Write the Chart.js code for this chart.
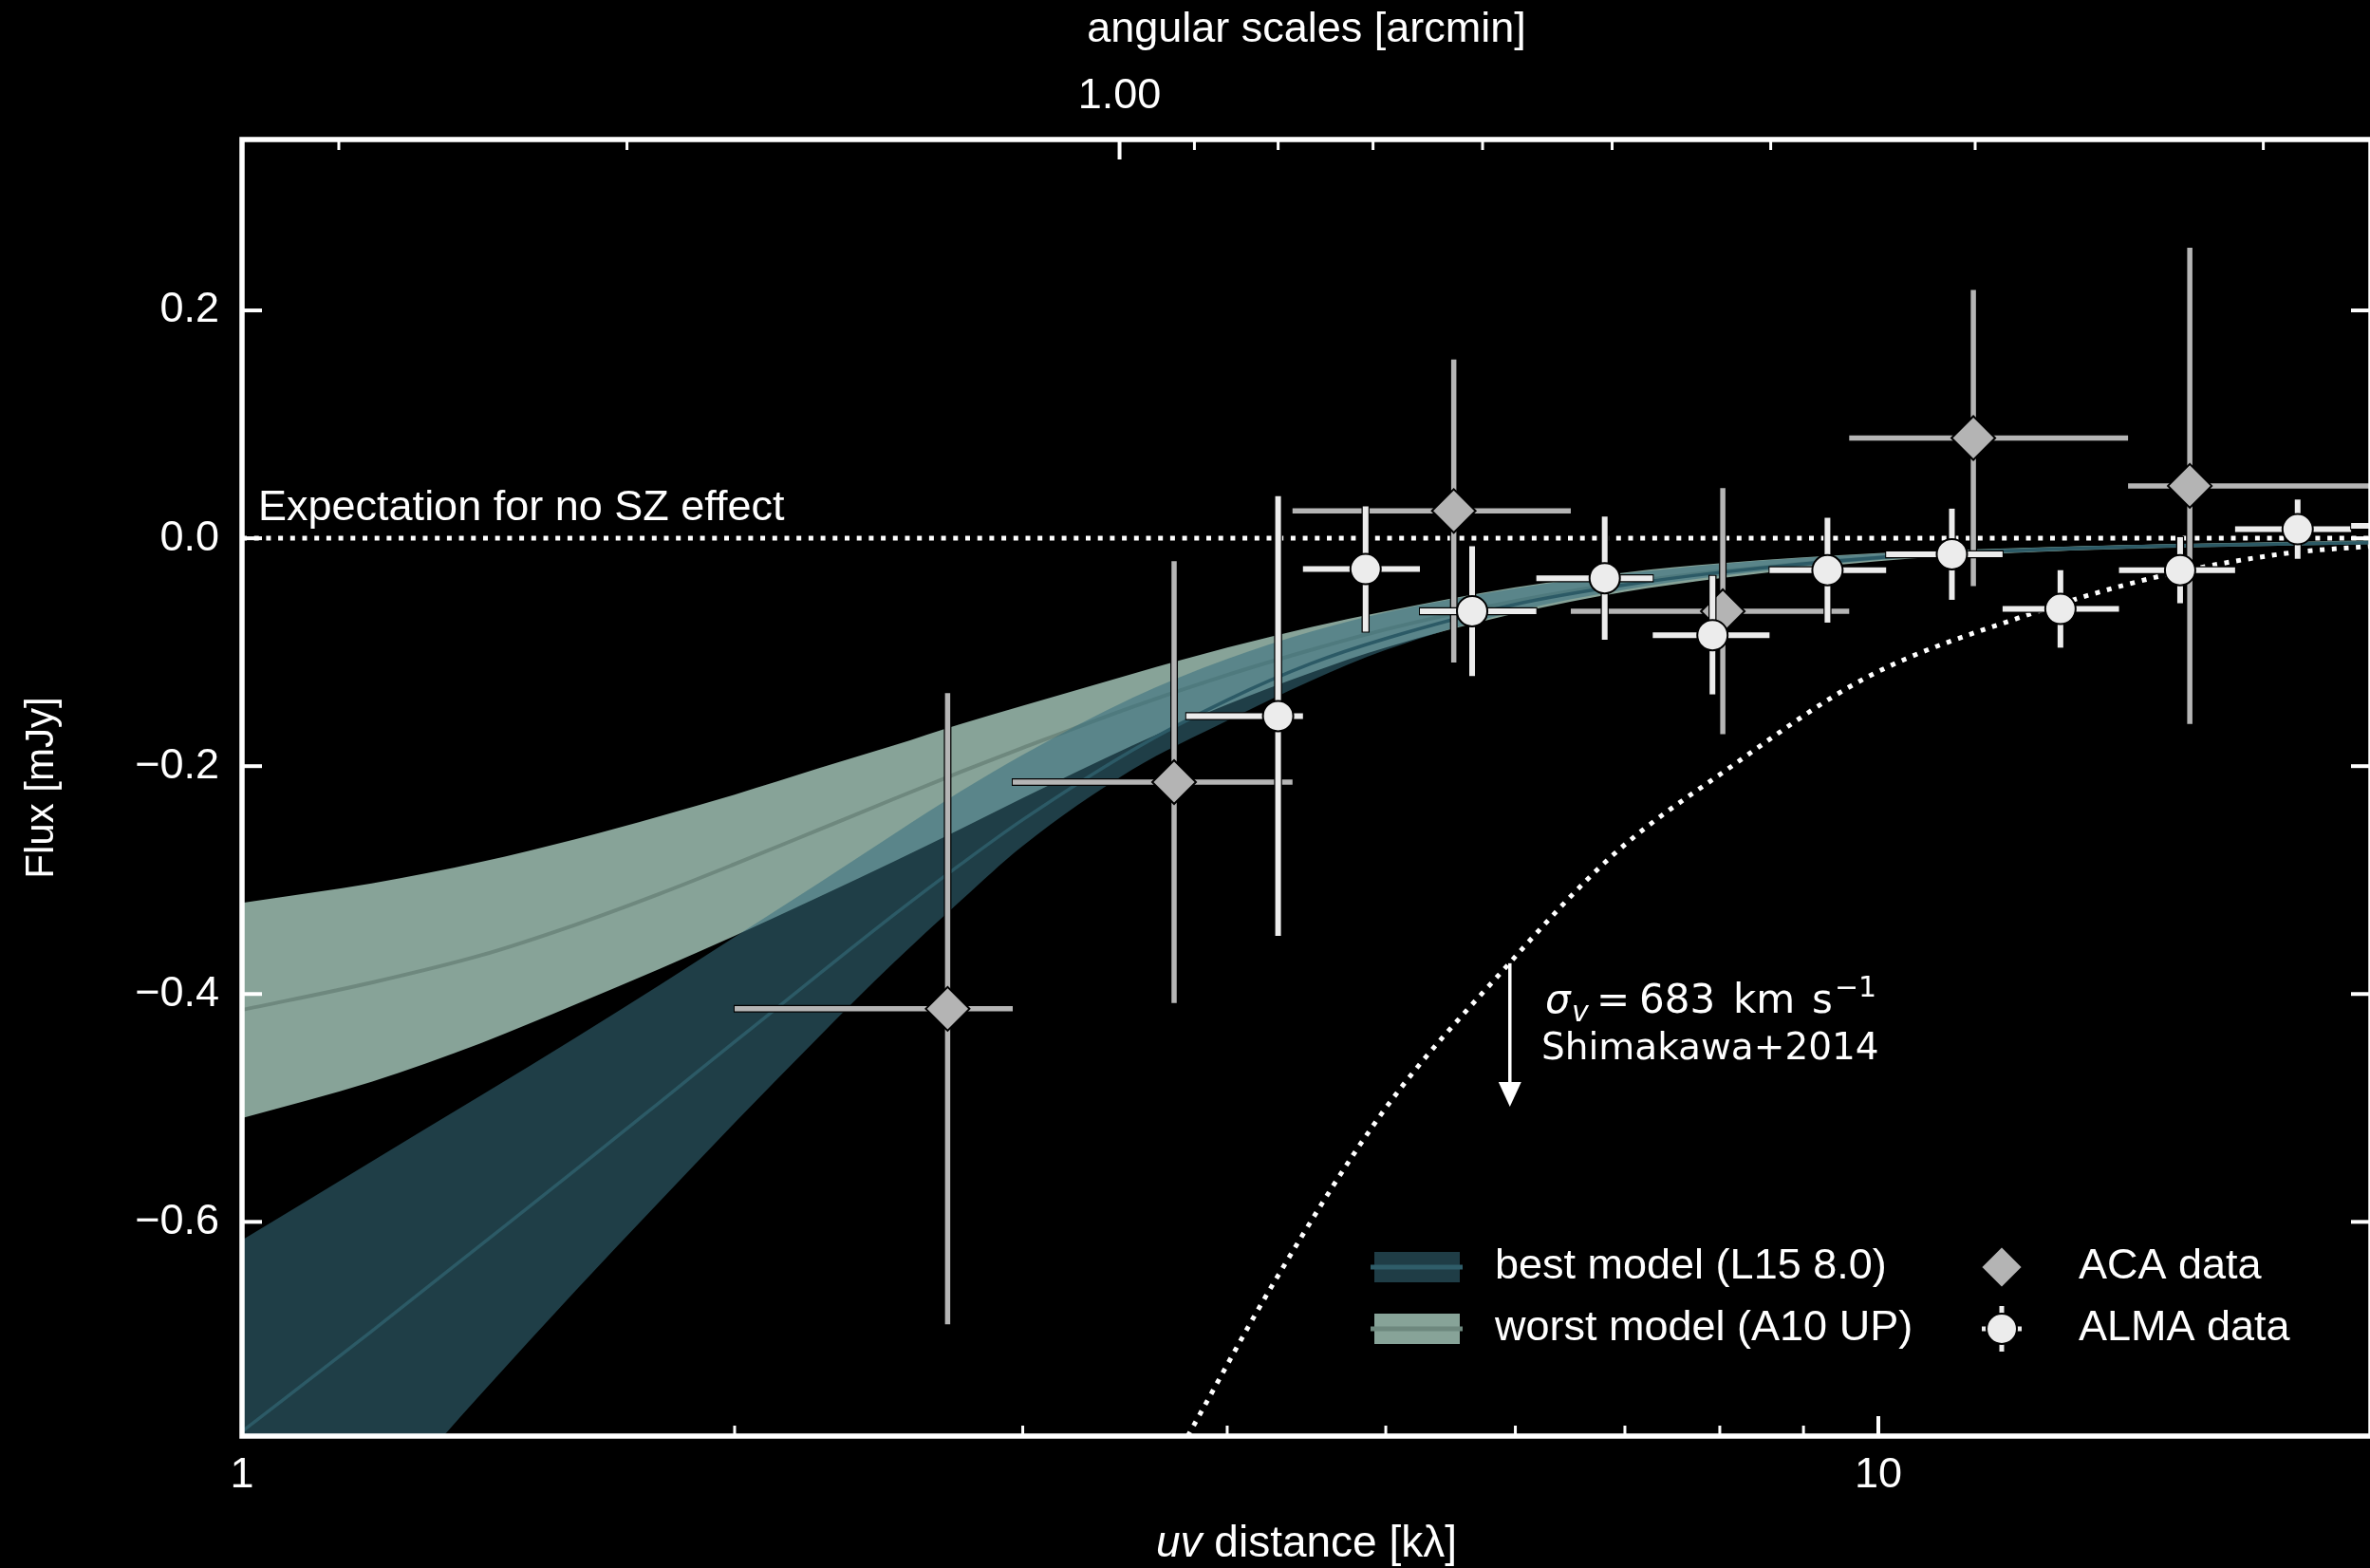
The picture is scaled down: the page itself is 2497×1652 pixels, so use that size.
<!DOCTYPE html>
<html>
<head>
<meta charset="utf-8">
<title>uv-distance flux profile</title>
<script src="https://cdn.jsdelivr.net/npm/chart.js@4.4.1/dist/chart.umd.min.js"></script>
<style>
  html, body { margin: 0; background: #000; overflow: hidden; }
  canvas { display: block; background: #000; }
</style>
</head>
<body>
<canvas id="uvplot" width="2513" height="1652"></canvas>
<script>
// ---- data ---------------------------------------------------------------

// model sampling in uv distance [kλ]
const modelUv = [1.0, 1.2, 1.4, 1.6, 1.8, 2.0, 2.25, 2.5, 2.75, 3.0, 3.5, 4.0, 4.5, 5.0, 6.0, 7.0, 8.0, 10, 12, 15, 20];

// best model (L15 8.0): band edges and median [mJy]
const bestUpper  = [-0.616, -0.547, -0.489, -0.438, -0.392, -0.350, -0.303, -0.260, -0.222, -0.190, -0.140, -0.106, -0.082, -0.065, -0.044, -0.031, -0.0225, -0.0135, -0.009, -0.0056, -0.003];
const bestMedian = [-0.784, -0.696, -0.620, -0.554, -0.495, -0.442, -0.383, -0.331, -0.286, -0.247, -0.186, -0.142, -0.110, -0.088, -0.058, -0.041, -0.030, -0.017, -0.011, -0.0068, -0.0038];
const bestLower  = [-0.985, -0.859, -0.751, -0.660, -0.582, -0.513, -0.438, -0.373, -0.318, -0.270, -0.203, -0.160, -0.125, -0.098, -0.064, -0.045, -0.033, -0.019, -0.0125, -0.0078, -0.0045];

// worst model (A10 UP)
const worstUpper  = [-0.320, -0.303, -0.284, -0.264, -0.244, -0.225, -0.202, -0.182, -0.163, -0.147, -0.119, -0.096, -0.078, -0.064, -0.043, -0.030, -0.022, -0.013, -0.0088, -0.0054, -0.0026];
const worstMedian = [-0.414, -0.390, -0.366, -0.339, -0.312, -0.286, -0.256, -0.229, -0.205, -0.184, -0.148, -0.120, -0.098, -0.080, -0.055, -0.039, -0.029, -0.017, -0.011, -0.0068, -0.0035];
const worstLower  = [-0.509, -0.477, -0.443, -0.409, -0.378, -0.349, -0.315, -0.284, -0.255, -0.228, -0.182, -0.146, -0.118, -0.096, -0.066, -0.047, -0.035, -0.020, -0.013, -0.008, -0.0045];

// sigma_v = 683 km/s expectation (Shimakawa+2014)
const sigmaUv   = [3.784, 4.275, 5.0, 5.89, 6.89, 8.09, 9.84, 12.29, 14.69, 17.8, 20.0];
const sigmaFlux = [-0.788, -0.6525, -0.50, -0.380, -0.2775, -0.2025, -0.122, -0.068, -0.035, -0.013, -0.007];

// ACA binned visibilities
const acaUv    = [2.699, 3.712, 5.502, 8.034, 11.43, 15.50];
const acaFlux  = [-0.413, -0.214, 0.024, -0.064, 0.088, 0.046];
const acaErr   = [0.277, 0.194, 0.133, 0.108, 0.130, 0.209];
const acaBinLo = [2.0, 2.958, 4.385, 6.487, 9.598, 14.21];
const acaBinHi = [2.958, 4.385, 6.487, 9.598, 14.21, 21.0];

// ALMA binned visibilities
const almaUv    = [4.297, 4.860, 5.646, 6.804, 7.918, 9.309, 11.09, 12.92, 15.29, 18.04, 21.2];
const almaFlux  = [-0.156, -0.027, -0.064, -0.035, -0.085, -0.028, -0.014, -0.062, -0.028, 0.008, 0.011];
const almaErr   = [0.193, 0.055, 0.057, 0.054, 0.052, 0.046, 0.040, 0.034, 0.029, 0.026, 0.024];
const almaBinLo = [3.776, 4.45, 5.246, 6.18, 7.28, 8.58, 10.11, 11.91, 14.03, 16.52, 19.45];
const almaBinHi = [4.45, 5.246, 6.18, 7.28, 8.58, 10.11, 11.91, 14.03, 16.52, 19.45, 22.9];

// axes
const uvTicks   = [1, 2, 3, 4, 5, 6, 7, 8, 9, 10, 20];
const uvLabels  = {1: '1', 10: '10'};
const arcTicks  = [3, 2, 1, 0.9, 0.8, 0.7, 0.6, 0.5, 0.4, 0.3, 0.2];
const arcLabels = {1: '1.00'};
const fluxTicks = [-0.6, -0.4, -0.2, 0.0, 0.2];

const ARCMIN_KLAMBDA = 3.43775;  // theta[arcmin] = 3.43775 / uv[klambda]
const FONT = "'Liberation Sans', Arial, sans-serif";
const MATH_FONT = "'DejaVu Sans', sans-serif";

// ---- helpers --------------------------------------------------------------

const pts = (xs, ys) => xs.map((x, i) => ({x, y: ys[i]}));
const sx = (c, v) => c.scales.x.getPixelForValue(v);
const sy = (c, v) => c.scales.y.getPixelForValue(v);

function seg(ctx, x1, y1, x2, y2) {
  ctx.beginPath(); ctx.moveTo(x1, y1); ctx.lineTo(x2, y2); ctx.stroke();
}

function crossBars(ctx, x, y, xl, xr, yt, yb, color, w) {
  ctx.strokeStyle = '#000'; ctx.lineWidth = w + 2.5;
  seg(ctx, xl - 1, y, xr + 1, y); seg(ctx, x, yt - 1, x, yb + 1);
  ctx.strokeStyle = color; ctx.lineWidth = w;
  seg(ctx, xl, y, xr, y); seg(ctx, x, yt, x, yb);
}

// error bars go in right under each marker dataset
const errorBars = {
  id: 'errorBars',
  beforeDatasetDraw(chart, args) {
    const ds = chart.data.datasets[args.index];
    const eb = ds.errorBars;
    if (!eb) return;
    const {ctx, chartArea: a} = chart;
    ctx.save();
    ctx.beginPath(); ctx.rect(a.left, a.top, a.right - a.left, a.bottom - a.top); ctx.clip();
    ctx.lineCap = 'butt';
    ds.data.forEach((p, i) => {
      crossBars(ctx, sx(chart, p.x), sy(chart, p.y),
        sx(chart, eb.lo[i]), sx(chart, eb.hi[i]),
        sy(chart, p.y + eb.err[i]), sy(chart, p.y - eb.err[i]),
        eb.color, eb.width);
    });
    ctx.restore();
  }
};

// inward ticks on all four sides + box
const frame = {
  id: 'frame',
  afterDatasetsDraw(chart) {
    const {ctx, chartArea: a, scales} = chart;
    ctx.save();
    ctx.strokeStyle = '#fff';
    ctx.lineCap = 'butt';
    scales.x.ticks.forEach(t => {
      const px = scales.x.getPixelForValue(t.value);
      ctx.lineWidth = t.major ? 4 : 3;
      seg(ctx, px, a.bottom, px, a.bottom - (t.major ? 21 : 11));
    });
    scales.x2.ticks.forEach(t => {
      const px = scales.x2.getPixelForValue(t.value);
      ctx.lineWidth = t.major ? 4 : 3;
      seg(ctx, px, a.top, px, a.top + (t.major ? 21 : 11));
    });
    ctx.lineWidth = 4;
    scales.y.ticks.forEach(t => {
      const py = scales.y.getPixelForValue(t.value);
      seg(ctx, a.left, py, a.left + 21, py);
      seg(ctx, a.right, py, a.right - 21, py);
    });
    ctx.lineWidth = 5.5;
    ctx.strokeRect(a.left, a.top, a.right - a.left, a.bottom - a.top);
    ctx.restore();
  }
};

// titles, annotations and the key
const notes = {
  id: 'notes',
  afterDraw(chart) {
    const {ctx, chartArea: a} = chart;
    ctx.save();
    ctx.fillStyle = '#fff';
    ctx.strokeStyle = '#fff';
    ctx.textAlign = 'left';
    ctx.textBaseline = 'alphabetic';

    // x title with italic "uv"
    const xt1 = 'uv', xt2 = ' distance [kλ]';
    ctx.font = `italic 46px ${FONT}`;
    const w1 = ctx.measureText(xt1).width;
    ctx.font = `46px ${FONT}`;
    const w2 = ctx.measureText(xt2).width;
    const x0 = (a.left + a.right) / 2 - (w1 + w2) / 2;
    ctx.font = `italic 46px ${FONT}`;
    ctx.fillText(xt1, x0, 1640);
    ctx.font = `46px ${FONT}`;
    ctx.fillText(xt2, x0 + w1, 1640);

    // y title
    ctx.save();
    ctx.translate(56, (a.top + a.bottom) / 2);
    ctx.rotate(-Math.PI / 2);
    ctx.textAlign = 'center';
    ctx.font = `42px ${FONT}`;
    ctx.fillText('Flux [mJy]', 0, 0);
    ctx.restore();

    // zero-signal line label
    ctx.font = `45px ${FONT}`;
    ctx.fillText('Expectation for no SZ effect', sx(chart, 1.023), sy(chart, 0.016));

    // arrow off the sigma_v curve
    const ax = sx(chart, 5.954);
    const ay0 = sy(chart, -0.373), ay1 = sy(chart, -0.499);
    ctx.lineWidth = 3.5;
    seg(ctx, ax, ay0, ax, ay1 - 20);
    ctx.beginPath();
    ctx.moveTo(ax - 12, ay1 - 26);
    ctx.lineTo(ax + 12, ay1 - 26);
    ctx.lineTo(ax, ay1);
    ctx.closePath();
    ctx.fill();

    // sigma_v label, math pieces laid out by hand
    const tx = sx(chart, 6.257);
    const ty = sy(chart, -0.4167);
    ctx.font = `italic 42px ${MATH_FONT}`;
    ctx.fillText('σ', tx, ty);
    ctx.font = `italic 30px ${MATH_FONT}`;
    ctx.fillText('v', tx + 28, ty + 9);
    ctx.font = `42px ${MATH_FONT}`;
    ctx.fillText('=', tx + 54, ty);
    ctx.fillText('683', tx + 99, ty);
    ctx.fillText('km', tx + 198, ty);
    ctx.fillText('s', tx + 281, ty);
    ctx.font = `30px ${MATH_FONT}`;
    ctx.fillText('−1', tx + 305, ty - 17);
    ctx.font = `39px ${MATH_FONT}`;
    ctx.fillText('Shimakawa+2014', tx - 4, ty + 49);

    // key
    ctx.textBaseline = 'middle';
    ctx.font = `45px ${FONT}`;
    const swatch = (y, fill, line) => {
      ctx.fillStyle = fill;
      ctx.fillRect(1448, y - 16, 90, 32);
      ctx.strokeStyle = line; ctx.lineWidth = 5;
      seg(ctx, 1444, y, 1541, y);
    };
    swatch(1335, '#1f3d46', '#2f5d69');
    swatch(1400, '#87a398', '#6e887e');
    ctx.fillStyle = '#fff';
    ctx.fillText('best model (L15 8.0)', 1575, 1335);
    ctx.fillText('worst model (A10 UP)', 1575, 1400);
    ctx.fillText('ACA data', 2190, 1335);
    ctx.fillText('ALMA data', 2190, 1400);

    const mx = 2109;
    ctx.lineWidth = 2;
    ctx.strokeStyle = '#000';
    ctx.fillStyle = '#b4b4b4';
    ctx.beginPath();
    ctx.moveTo(mx - 22, 1335); ctx.lineTo(mx, 1313); ctx.lineTo(mx + 22, 1335); ctx.lineTo(mx, 1357);
    ctx.closePath(); ctx.fill(); ctx.stroke();

    crossBars(ctx, mx, 1400, mx - 21, mx + 21, 1376, 1424, '#ececec', 5);
    ctx.lineWidth = 2;
    ctx.strokeStyle = '#000';
    ctx.fillStyle = '#ececec';
    ctx.beginPath(); ctx.arc(mx, 1400, 16, 0, Math.PI * 2); ctx.fill(); ctx.stroke();

    ctx.restore();
  }
};

// ---- chart --------------------------------------------------------------------

const band = (data, fill, color, order) => ({
  data, fill, order,
  backgroundColor: color,
  borderColor: 'rgba(0,0,0,0)', borderWidth: 0,
  pointRadius: 0, cubicInterpolationMode: 'monotone'
});
const curve = (data, color, width, order, dash) => ({
  data, order, fill: false,
  borderColor: color, borderWidth: width, borderDash: dash || [],
  borderCapStyle: 'butt',
  pointRadius: 0, cubicInterpolationMode: 'monotone'
});

const tickFont = {family: FONT, size: 45};

new Chart(document.getElementById('uvplot'), {
  type: 'line',
  data: {
    datasets: [
      band(pts(modelUv, worstUpper), 1, '#87a398', 50),
      band(pts(modelUv, worstLower), false, '#87a398', 49),
      curve(pts(modelUv, worstMedian), '#6e887e', 4, 45),
      band(pts(modelUv, bestUpper), 4, 'rgba(56,110,126,0.56)', 40),
      band(pts(modelUv, bestLower), false, 'rgba(56,110,126,0.56)', 39),
      curve(pts(modelUv, bestMedian), '#2c5a66', 3.5, 35),
      curve(pts([1, 20], [0, 0]), '#ffffff', 5, 60, [5, 7.7]),
      curve(pts(sigmaUv, sigmaFlux), '#ffffff', 5, 55, [5, 7.7]),
      {
        data: pts(acaUv, acaFlux), order: 20, showLine: false,
        pointStyle: 'rectRot', pointRadius: 23,
        pointBackgroundColor: '#b4b4b4', pointBorderColor: '#000', pointBorderWidth: 2,
        errorBars: {lo: acaBinLo, hi: acaBinHi, err: acaErr, color: '#b5b5b5', width: 5.5}
      },
      {
        data: pts(almaUv, almaFlux), order: 10, showLine: false,
        pointStyle: 'circle', pointRadius: 16,
        pointBackgroundColor: '#ececec', pointBorderColor: '#000', pointBorderWidth: 2,
        errorBars: {lo: almaBinLo, hi: almaBinHi, err: almaErr, color: '#ececec', width: 6}
      }
    ]
  },
  options: {
    responsive: false, animation: false, devicePixelRatio: 1,
    layout: {padding: 0, autoPadding: false},
    plugins: {legend: {display: false}, tooltip: {enabled: false}},
    scales: {
      x: {
        type: 'logarithmic', position: 'bottom', min: 1, max: 20,
        afterFit: s => { s.height = 139; },
        afterBuildTicks: s => { s.ticks = uvTicks.map(v => ({value: v, major: v in uvLabels})); },
        grid: {display: false, drawTicks: false}, border: {display: false},
        ticks: {
          color: '#fff', font: tickFont, padding: 15,
          autoSkip: false, maxRotation: 0, minRotation: 0,
          callback: v => uvLabels[v] || ''
        }
      },
      x2: {
        type: 'logarithmic', position: 'top', reverse: true,
        min: ARCMIN_KLAMBDA / 20, max: ARCMIN_KLAMBDA,
        afterFit: s => { s.height = 147; },
        afterBuildTicks: s => { s.ticks = arcTicks.map(v => ({value: v, major: v in arcLabels})); },
        grid: {display: false, drawTicks: false}, border: {display: false},
        ticks: {
          color: '#fff', font: tickFont, padding: 18,
          autoSkip: false, maxRotation: 0, minRotation: 0,
          callback: v => arcLabels[v] || ''
        },
        title: {
          display: true, text: 'angular scales [arcmin]', color: '#fff',
          font: {family: FONT, size: 45}, padding: {top: 5, bottom: 0}
        }
      },
      y: {
        type: 'linear', position: 'left', min: -0.788, max: 0.35,
        afterFit: s => { s.width = 255; },
        afterBuildTicks: s => { s.ticks = fluxTicks.map(v => ({value: v})); },
        grid: {display: false, drawTicks: false}, border: {display: false},
        ticks: {
          color: '#fff', font: tickFont, padding: 24,
          callback: v => (v < 0 ? '\u2212' : '') + Math.abs(v).toFixed(1)
        }
      }
    }
  },
  plugins: [errorBars, frame, notes]
});
</script>
</body>
</html>
